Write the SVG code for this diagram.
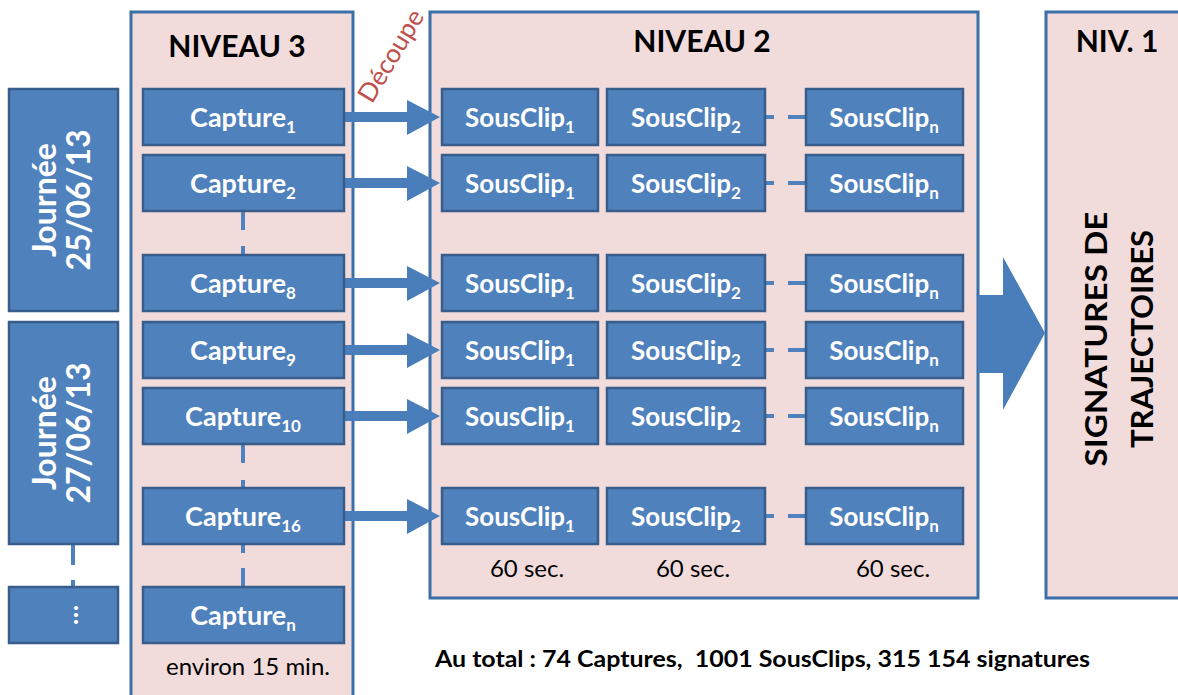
<svg xmlns="http://www.w3.org/2000/svg" width="1178" height="695" viewBox="0 0 1178 695">
<style>
.panel{fill:#f2dcdb;stroke:#3a6fa8;stroke-width:3}
.box{fill:#4f81bd;stroke:#385d8a;stroke-width:2.5}
.bt{font-family:Lato,"Liberation Sans",sans-serif;font-weight:bold;fill:#fff;text-anchor:middle}
.cap{font-size:27px}
.sc{font-size:26px}
.sub{font-size:17px}
.title{font-family:Lato,"Liberation Sans",sans-serif;font-weight:bold;fill:#000;text-anchor:middle;font-size:30px}
.note{font-family:Lato,"Liberation Sans",sans-serif;fill:#000;text-anchor:middle;font-size:24px}
.dash{stroke:#4f81bd;stroke-width:4;fill:none}
.arr{fill:#4a7ebb}
</style>
<rect width="1178" height="695" fill="#fff"/>

<g id="niveau3">
<rect class="panel" x="131" y="12" width="222" height="700"/>
<text class="title" x="237" y="57">NIVEAU 3</text>
<text class="note" x="248" y="675" font-size="25">environ 15 min.</text>
</g>
<g id="niveau2">
<rect class="panel" x="430" y="12" width="548" height="586"/>
<text class="title" x="702" y="52">NIVEAU 2</text>
<text class="note" x="527" y="577">60 sec.</text>
<text class="note" x="693" y="577">60 sec.</text>
<text class="note" x="893" y="577">60 sec.</text>
</g>
<g id="niveau1">
<rect class="panel" x="1046" y="12" width="140" height="586"/>
<text class="title" x="1117" y="52">NIV. 1</text>
<g transform="translate(0,339) rotate(-90)">
<text class="title" x="0" y="1107" font-size="37" textLength="255" lengthAdjust="spacingAndGlyphs">SIGNATURES DE</text>
<text class="title" x="0" y="1153" font-size="37" textLength="218" lengthAdjust="spacingAndGlyphs">TRAJECTOIRES</text>
</g>
</g>

<g id="connectors">
<g class="dash">
<path d="M243 211V230M243 246V255"/>
<path d="M243 444V463M243 480V488"/>
<path d="M243 544V553M243 568V587"/>
<path d="M73 545V565M73 580V587"/>
<path d="M765 117H774M788 117H806"/>
<path d="M765 183H774M788 183H806"/>
<path d="M765 283H774M788 283H806"/>
<path d="M765 350H774M788 350H806"/>
<path d="M765 416H774M788 416H806"/>
<path d="M765 516H774M788 516H806"/>
</g>
<g class="arr">
<path d="M344 112H407V100L440 117L407 135V122H344Z"/>
<path d="M344 178H407V166L440 183L407 201V188H344Z"/>
<path d="M344 278H407V266L440 283L407 301V288H344Z"/>
<path d="M344 345H407V333L440 350L407 368V355H344Z"/>
<path d="M344 411H407V399L440 416L407 434V421H344Z"/>
<path d="M344 511H407V499L440 516L407 534V521H344Z"/>
<path d="M978 295H1003V257L1045 333L1003 410V373H978Z"/>
</g>
<text x="393" y="57" transform="rotate(-59 393 57)" font-family="Lato,'Liberation Sans',sans-serif" font-size="26" fill="#c0504d" text-anchor="middle" dominant-baseline="middle">Découpe</text>
</g>

<g id="journee1">
<rect class="box" x="9" y="89" width="109" height="222"/>
<g transform="translate(0,200) rotate(-90)">
<text class="bt" x="0" y="56" font-size="32">Journée</text>
<text class="bt" x="0" y="90" font-size="32">25/06/13</text>
</g>
</g>
<g id="journee2">
<rect class="box" x="9" y="322" width="109" height="222"/>
<g transform="translate(0,433) rotate(-90)">
<text class="bt" x="0" y="56" font-size="32">Journée</text>
<text class="bt" x="0" y="90" font-size="32">27/06/13</text>
</g>
</g>
<g id="journee-more">
<rect class="box" x="9" y="587" width="109" height="56"/>
<text class="bt" x="-615" y="78" font-size="26" transform="rotate(-90)">…</text>
</g>

<g id="capture1"><rect class="box" x="143" y="89" width="201" height="56"/><text class="bt cap" x="243" y="127">Capture<tspan class="sub" dy="6">1</tspan></text></g>
<g id="capture2"><rect class="box" x="143" y="155" width="201" height="56"/><text class="bt cap" x="243" y="193">Capture<tspan class="sub" dy="6">2</tspan></text></g>
<g id="capture8"><rect class="box" x="143" y="255" width="201" height="56"/><text class="bt cap" x="243" y="293">Capture<tspan class="sub" dy="6">8</tspan></text></g>
<g id="capture9"><rect class="box" x="143" y="322" width="201" height="56"/><text class="bt cap" x="243" y="360">Capture<tspan class="sub" dy="6">9</tspan></text></g>
<g id="capture10"><rect class="box" x="143" y="388" width="201" height="56"/><text class="bt cap" x="243" y="426">Capture<tspan class="sub" dy="6">10</tspan></text></g>
<g id="capture16"><rect class="box" x="143" y="488" width="201" height="56"/><text class="bt cap" x="243" y="526">Capture<tspan class="sub" dy="6">16</tspan></text></g>
<g id="capturen"><rect class="box" x="143" y="587" width="201" height="56"/><text class="bt cap" x="243" y="625">Capture<tspan class="sub" dy="6">n</tspan></text></g>

<g id="row1">
<g id="sc1-1"><rect class="box" x="442" y="89" width="156" height="56"/><text class="bt sc" x="520" y="127">SousClip<tspan class="sub" dy="6">1</tspan></text></g>
<g id="sc1-2"><rect class="box" x="607" y="89" width="158" height="56"/><text class="bt sc" x="686" y="127">SousClip<tspan class="sub" dy="6">2</tspan></text></g>
<g id="sc1-n"><rect class="box" x="806" y="89" width="157" height="56"/><text class="bt sc" x="884" y="127">SousClip<tspan class="sub" dy="6">n</tspan></text></g>
</g>
<g id="row2">
<g id="sc2-1"><rect class="box" x="442" y="155" width="156" height="56"/><text class="bt sc" x="520" y="193">SousClip<tspan class="sub" dy="6">1</tspan></text></g>
<g id="sc2-2"><rect class="box" x="607" y="155" width="158" height="56"/><text class="bt sc" x="686" y="193">SousClip<tspan class="sub" dy="6">2</tspan></text></g>
<g id="sc2-n"><rect class="box" x="806" y="155" width="157" height="56"/><text class="bt sc" x="884" y="193">SousClip<tspan class="sub" dy="6">n</tspan></text></g>
</g>
<g id="row3">
<g id="sc3-1"><rect class="box" x="442" y="255" width="156" height="56"/><text class="bt sc" x="520" y="293">SousClip<tspan class="sub" dy="6">1</tspan></text></g>
<g id="sc3-2"><rect class="box" x="607" y="255" width="158" height="56"/><text class="bt sc" x="686" y="293">SousClip<tspan class="sub" dy="6">2</tspan></text></g>
<g id="sc3-n"><rect class="box" x="806" y="255" width="157" height="56"/><text class="bt sc" x="884" y="293">SousClip<tspan class="sub" dy="6">n</tspan></text></g>
</g>
<g id="row4">
<g id="sc4-1"><rect class="box" x="442" y="322" width="156" height="56"/><text class="bt sc" x="520" y="360">SousClip<tspan class="sub" dy="6">1</tspan></text></g>
<g id="sc4-2"><rect class="box" x="607" y="322" width="158" height="56"/><text class="bt sc" x="686" y="360">SousClip<tspan class="sub" dy="6">2</tspan></text></g>
<g id="sc4-n"><rect class="box" x="806" y="322" width="157" height="56"/><text class="bt sc" x="884" y="360">SousClip<tspan class="sub" dy="6">n</tspan></text></g>
</g>
<g id="row5">
<g id="sc5-1"><rect class="box" x="442" y="388" width="156" height="56"/><text class="bt sc" x="520" y="426">SousClip<tspan class="sub" dy="6">1</tspan></text></g>
<g id="sc5-2"><rect class="box" x="607" y="388" width="158" height="56"/><text class="bt sc" x="686" y="426">SousClip<tspan class="sub" dy="6">2</tspan></text></g>
<g id="sc5-n"><rect class="box" x="806" y="388" width="157" height="56"/><text class="bt sc" x="884" y="426">SousClip<tspan class="sub" dy="6">n</tspan></text></g>
</g>
<g id="row6">
<g id="sc6-1"><rect class="box" x="442" y="488" width="156" height="56"/><text class="bt sc" x="520" y="526">SousClip<tspan class="sub" dy="6">1</tspan></text></g>
<g id="sc6-2"><rect class="box" x="607" y="488" width="158" height="56"/><text class="bt sc" x="686" y="526">SousClip<tspan class="sub" dy="6">2</tspan></text></g>
<g id="sc6-n"><rect class="box" x="806" y="488" width="157" height="56"/><text class="bt sc" x="884" y="526">SousClip<tspan class="sub" dy="6">n</tspan></text></g>
</g>

<g id="total">
<text x="435" y="667" font-family="Lato,'Liberation Sans',sans-serif" font-weight="bold" font-size="22" fill="#000" xml:space="preserve" textLength="655" lengthAdjust="spacingAndGlyphs">Au total : 74 Captures,  1001 SousClips, 315 154 signatures</text>
</g>
</svg>
